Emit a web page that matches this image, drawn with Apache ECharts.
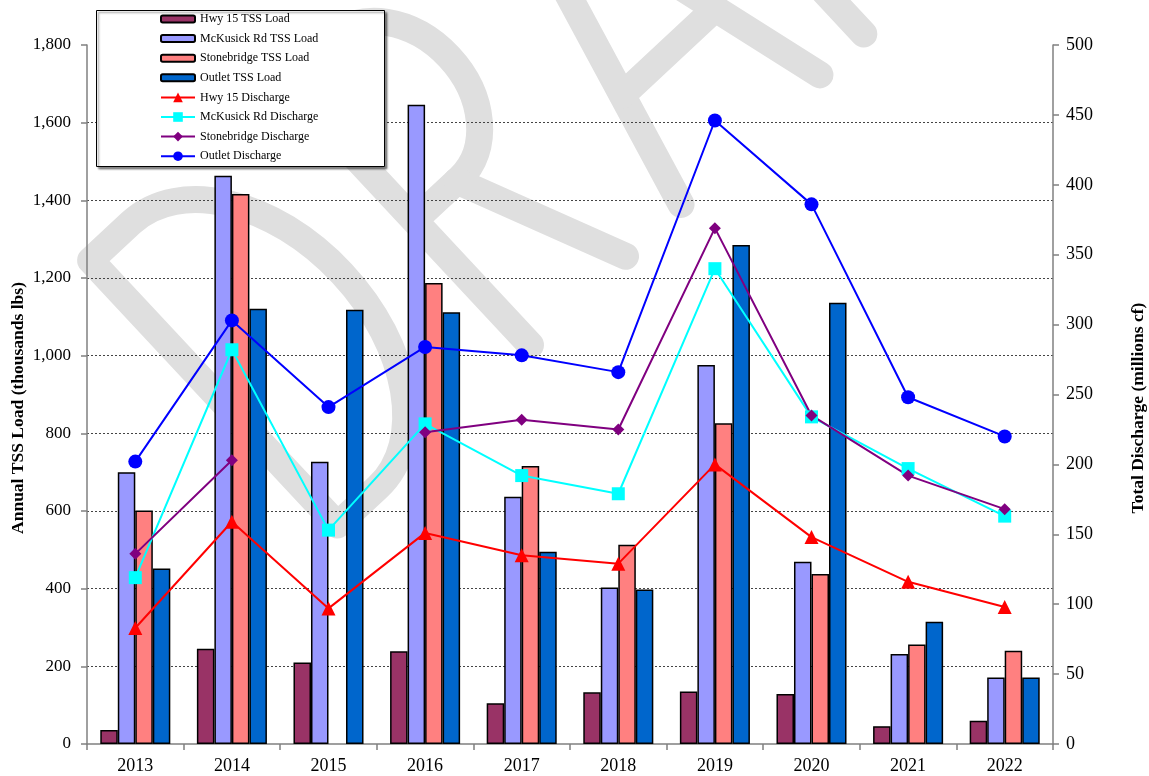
<!DOCTYPE html>
<html>
<head>
<meta charset="utf-8">
<title>Annual TSS Load and Total Discharge</title>
<script src="https://cdn.jsdelivr.net/npm/echarts@6/dist/echarts.min.js"></script>
<style>
  html, body { margin: 0; padding: 0; background: #fff; }
  #chart { width: 1149px; height: 776px; }
</style>
</head>
<body>
<div id="chart"></div>
<script>
// Monitoring years
const years = ['2013', '2014', '2015', '2016', '2017', '2018', '2019', '2020', '2021', '2022'];

// Annual TSS load (thousands lbs) per station
const hwy15Tss       = [36, 245, 210, 239, 105, 133, 135, 129, 46, 60];
const mckusickTss    = [700, 1463, 727, 1646, 637, 403, 976, 469, 232, 171];
const stonebridgeTss = [601, 1416, null, 1187, 716, 513, 826, 438, 256, 240];
const outletTss      = [452, 1121, 1118, 1112, 495, 398, 1285, 1136, 315, 171];

// Total discharge (millions cf) per station
const hwy15Q       = [83, 159, 97, 151, 135, 129, 200, 148, 116, 98];
const mckusickQ    = [119, 282, 153, 229, 192, 179, 340, 234, 197, 163];
const stonebridgeQ = [136, 203, null, 223, 232, 225, 369, 235, 192, 168];
const outletQ      = [202, 303, 241, 284, 278, 266, 446, 386, 248, 220];

const barNames  = ['Hwy 15 TSS Load', 'McKusick Rd TSS Load', 'Stonebridge TSS Load', 'Outlet TSS Load'];
const lineNames = ['Hwy 15 Discharge', 'McKusick Rd Discharge', 'Stonebridge Discharge', 'Outlet Discharge'];

const serif = '"Liberation Serif", "Times New Roman", serif';
const W = 1149, H = 776;

// "DRAFT" stamp drawn as thick rounded pen strokes on an offscreen canvas.
// Letters are laid out in a local frame (x along the baseline, y up), then rotated.
function draftStamp() {
  const c = document.createElement('canvas');
  c.width = W; c.height = H;
  const ctx = c.getContext('2d');
  const bx = 0.731, by = -0.682;   // baseline direction
  const ux = -0.682, uy = -0.731;  // "up" direction
  ctx.setTransform(bx, by, ux, uy, 337.5, 525);
  ctx.strokeStyle = '#dfdfdf';
  ctx.lineWidth = 27;
  ctx.lineCap = 'round';
  ctx.lineJoin = 'round';
  const cap = 362, k = 0.552;
  const stroke = (draw) => { ctx.beginPath(); draw(); ctx.stroke(); };
  // D
  stroke(() => {
    const x0 = 55, rx = 120, ry = cap / 2;
    ctx.moveTo(0, 0); ctx.lineTo(0, cap); ctx.lineTo(x0, cap);
    ctx.bezierCurveTo(x0 + k * rx, cap, x0 + rx, ry + k * ry, x0 + rx, ry);
    ctx.bezierCurveTo(x0 + rx, ry - k * ry, x0 + k * rx, 0, x0, 0);
    ctx.closePath();
  });
  // R
  stroke(() => {
    const s = 264, x0 = s + 62, rx = 75, yb = cap * 0.47, ry = (cap - yb) / 2, yc = yb + ry;
    ctx.moveTo(s, 0); ctx.lineTo(s, cap); ctx.lineTo(x0, cap);
    ctx.bezierCurveTo(x0 + k * rx, cap, x0 + rx, yc + k * ry, x0 + rx, yc);
    ctx.bezierCurveTo(x0 + rx, yc - k * ry, x0 + k * rx, yb, x0, yb);
    ctx.lineTo(s, yb);
  });
  stroke(() => { ctx.moveTo(322, cap * 0.47); ctx.lineTo(394, 0); });
  // A
  stroke(() => { ctx.moveTo(470, 0); ctx.lineTo(565, cap); ctx.lineTo(660, 0); });
  stroke(() => { ctx.moveTo(502, 120); ctx.lineTo(628, 120); });
  // F
  stroke(() => { ctx.moveTo(720, 0); ctx.lineTo(720, cap); ctx.lineTo(862, cap); });
  stroke(() => { ctx.moveTo(720, cap * 0.55); ctx.lineTo(832, cap * 0.55); });
  // T
  stroke(() => { ctx.moveTo(900, cap); ctx.lineTo(1070, cap); });
  stroke(() => { ctx.moveTo(985, cap); ctx.lineTo(985, 0); });
  return c;
}

function barSeries(name, color, data) {
  return {
    name, type: 'bar', yAxisIndex: 0, data,
    barGap: '0%', barCategoryGap: '27.5%',
    itemStyle: { color, borderColor: '#000', borderWidth: 1.5 }
  };
}
function lineSeries(name, color, symbol, size, data) {
  return {
    name, type: 'line', yAxisIndex: 1, data,
    symbol, symbolSize: size, connectNulls: false,
    lineStyle: { color, width: 2 },
    itemStyle: { color, borderWidth: 0 }
  };
}

const legendText = { fontFamily: serif, fontSize: 12, color: '#000', lineHeight: 14 };
const titleFont = 'bold 17.5px "Liberation Serif", "Times New Roman", serif';

const chart = echarts.init(document.getElementById('chart'), null, { renderer: 'canvas' });

chart.setOption({
  animation: false,
  backgroundColor: '#fff',
  textStyle: { fontFamily: serif, color: '#000' },
  graphic: [{
    type: 'image', z: -10, silent: true,
    style: { image: draftStamp(), x: 0, y: 0, width: W, height: H }
  }, {
    type: 'rect', z: 1, silent: true,
    shape: { x: 96.5, y: 10.5, width: 288, height: 156 },
    style: { fill: '#fff', stroke: '#000', lineWidth: 1,
      shadowColor: 'rgba(0,0,0,0.45)', shadowBlur: 2, shadowOffsetX: 2, shadowOffsetY: 2 }
  }, {
    // left axis title
    type: 'text', silent: true, x: 18, y: 408, rotation: Math.PI / 2,
    style: { text: 'Annual TSS Load (thousands lbs)', font: titleFont, fill: '#000',
      align: 'center', verticalAlign: 'middle' }
  }, {
    // right axis title
    type: 'text', silent: true, x: 1138, y: 408, rotation: Math.PI / 2,
    style: { text: 'Total Discharge (millions cf)', font: titleFont, fill: '#000',
      align: 'center', verticalAlign: 'middle' }
  }],
  legend: [{
    orient: 'vertical', left: 160, top: 12, padding: 0, z: 5,
    itemWidth: 34, itemHeight: 7, itemGap: 5.6,
    textStyle: legendText, data: barNames
  }, {
    orient: 'vertical', left: 160, top: 90.4, padding: 0, z: 5,
    itemWidth: 34, itemHeight: 12, itemGap: 5.6,
    textStyle: legendText, data: lineNames
  }],
  grid: { left: 87, right: 96, top: 45, bottom: 32, outerBoundsMode: 'none' },
  xAxis: {
    type: 'category', data: years, boundaryGap: true,
    axisLine: { lineStyle: { color: '#808080', width: 1.5 } },
    axisTick: { show: true, interval: 0, length: 6, lineStyle: { color: '#808080', width: 1.5 } },
    axisLabel: { fontFamily: serif, fontSize: 18, color: '#000', margin: 13 }
  },
  yAxis: [{
    type: 'value', min: 0, max: 1800, interval: 200, position: 'left',
    axisLine: { show: true, lineStyle: { color: '#808080', width: 1.5 } },
    axisTick: { show: true, length: 6, lineStyle: { color: '#808080', width: 1.5 } },
    axisLabel: { fontFamily: serif, fontSize: 17, color: '#000', margin: 16,
      formatter: v => v.toLocaleString('en-US') },
    splitLine: { show: true, showMinLine: false, showMaxLine: false,
      lineStyle: { color: '#444', width: 1, type: [2, 2] } }
  }, {
    type: 'value', min: 0, max: 500, interval: 50, position: 'right',
    axisLine: { show: true, lineStyle: { color: '#808080', width: 1.5 } },
    axisTick: { show: true, length: 6, lineStyle: { color: '#808080', width: 1.5 } },
    axisLabel: { fontFamily: serif, fontSize: 18, color: '#000', margin: 13 },
    splitLine: { show: false }
  }],
  series: [
    barSeries(barNames[0], '#993366', hwy15Tss),
    barSeries(barNames[1], '#9999FF', mckusickTss),
    barSeries(barNames[2], '#FF8080', stonebridgeTss),
    barSeries(barNames[3], '#0066CC', outletTss),
    lineSeries(lineNames[0], '#FF0000', 'triangle', 14, hwy15Q),
    lineSeries(lineNames[1], '#00FFFF', 'rect', 13, mckusickQ),
    lineSeries(lineNames[2], '#800080', 'diamond', 12, stonebridgeQ),
    lineSeries(lineNames[3], '#0000FF', 'circle', 14, outletQ)
  ]
});
</script>
</body>
</html>
